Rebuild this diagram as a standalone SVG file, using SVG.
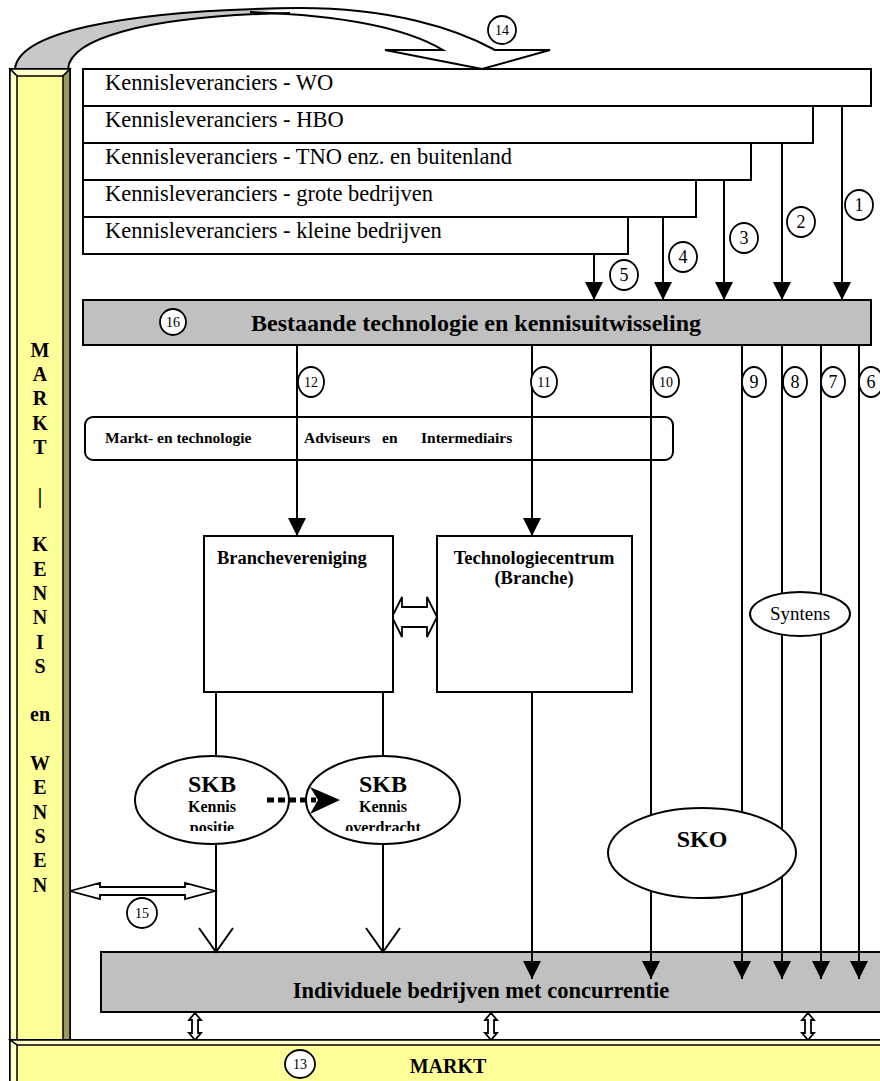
<svg xmlns="http://www.w3.org/2000/svg" width="880" height="1081" viewBox="0 0 880 1081">
<style>
.ln{stroke:#000;stroke-width:2;fill:none}
.box{fill:#fff;stroke:#000;stroke-width:2}
.gray{fill:#c0c0c0;stroke:#000;stroke-width:2}
.t{font-family:"Liberation Serif","Times New Roman",serif;fill:#000}
.b{font-weight:bold}
.num{font-family:"Liberation Serif","Times New Roman",serif;font-size:18px;text-anchor:middle}
.snum{font-family:"Liberation Serif","Times New Roman",serif;font-size:14px;text-anchor:middle}
.circ{fill:#fff;stroke:#000;stroke-width:1.8}
.hollow{fill:#fff;stroke:#000;stroke-width:1.8;stroke-linejoin:miter}
</style>
<defs>
<marker id="tri" markerUnits="userSpaceOnUse" markerWidth="18" markerHeight="18" refX="18" refY="9" orient="auto" viewBox="0 0 18 18">
<path d="M0,0 L18,9 L0,18 Z" fill="#000"/>
</marker>
<clipPath id="clipSkb"><rect x="100" y="740" width="400" height="91"/></clipPath>
</defs>

<!-- top curved arrow (14) -->
<g id="curved-arrow">
<path d="M15,69 C18,35 110,10 300,8 L300,13 C140,16 70,40 68,69 Z" fill="#c8c8c8"/>
<path d="M300,8 C390,8 455,28 495,50 L550,50 L482,69 L385,50 L443,50 C420,36 370,16 250,12 Z" fill="#fff"/>
<path class="ln" d="M15,69 C18,35 110,10 300,8 C390,8 455,28 495,50 L550,50 L482,69 L385,50 L443,50 C420,36 370,16 250,12"/>
<path class="ln" d="M68,69 C70,40 140,16 290,13"/>
</g>

<!-- supplier boxes -->
<g id="kl-wo"><rect class="box" x="83" y="69" width="788" height="37"/><text class="t" x="105" y="90" font-size="22.5">Kennisleveranciers - WO</text></g>
<g id="kl-hbo"><rect class="box" x="83" y="106" width="730" height="37"/><text class="t" x="105" y="127" font-size="22.5">Kennisleveranciers - HBO</text></g>
<g id="kl-tno"><rect class="box" x="83" y="143" width="668" height="37"/><text class="t" x="105" y="164" font-size="22.5">Kennisleveranciers - TNO enz. en buitenland</text></g>
<g id="kl-groot"><rect class="box" x="83" y="180" width="613" height="37"/><text class="t" x="105" y="201" font-size="22.5">Kennisleveranciers - grote bedrijven</text></g>
<g id="kl-klein"><rect class="box" x="83" y="217" width="545" height="37"/><text class="t" x="105" y="238" font-size="22.5">Kennisleveranciers - kleine bedrijven</text></g>

<!-- bar 16 -->
<g id="bestaande">
<rect class="gray" x="83" y="300" width="788" height="45"/>
<text class="t b" x="476" y="331" font-size="24" text-anchor="middle">Bestaande technologie en kennisuitwisseling</text>
<ellipse class="circ" cx="173" cy="322" rx="13" ry="13"/><text class="snum" x="173" y="327">16</text>
</g>

<!-- advisers box -->
<g id="adviseurs">
<rect class="box" x="85" y="417" width="588" height="43" rx="8"/>
<text class="t b" x="105" y="443" font-size="15.5">Markt- en technologie</text>
<text class="t b" x="304" y="443" font-size="15.5">Adviseurs</text>
<text class="t b" x="382" y="443" font-size="15.5">en</text>
<text class="t b" x="421" y="443" font-size="15.5">Intermediairs</text>
</g>

<!-- individual companies bar (drawn under the arrows) -->
<g id="individuele">
<rect class="gray" x="101" y="952" width="785" height="60"/>
<text class="t b" x="481" y="998" font-size="22.5" text-anchor="middle">Individuele bedrijven met concurrentie</text>
</g>

<!-- connectors -->
<g id="connectors">
<line class="ln" x1="842" y1="106" x2="842" y2="300" marker-end="url(#tri)"/>
<line class="ln" x1="782" y1="143" x2="782" y2="300" marker-end="url(#tri)"/>
<line class="ln" x1="724" y1="180" x2="724" y2="300" marker-end="url(#tri)"/>
<line class="ln" x1="663" y1="217" x2="663" y2="300" marker-end="url(#tri)"/>
<line class="ln" x1="594" y1="254" x2="594" y2="300" marker-end="url(#tri)"/>
<line class="ln" x1="297" y1="345" x2="297" y2="536" marker-end="url(#tri)"/>
<line class="ln" x1="532" y1="345" x2="532" y2="536" marker-end="url(#tri)"/>
<line class="ln" x1="532" y1="692" x2="532" y2="979" marker-end="url(#tri)"/>
<line class="ln" x1="651" y1="345" x2="651" y2="979" marker-end="url(#tri)"/>
<line class="ln" x1="742" y1="345" x2="742" y2="979" marker-end="url(#tri)"/>
<line class="ln" x1="782" y1="345" x2="782" y2="979" marker-end="url(#tri)"/>
<line class="ln" x1="821" y1="345" x2="821" y2="979" marker-end="url(#tri)"/>
<line class="ln" x1="859" y1="345" x2="859" y2="979" marker-end="url(#tri)"/>
<line class="ln" x1="216" y1="692" x2="216" y2="952"/>
<line class="ln" x1="383" y1="692" x2="383" y2="952"/>
<path class="ln" d="M199,928 L216,952 L233,928"/>
<path class="ln" d="M366,928 L383,952 L400,928"/>
<path class="hollow" d="M392,617 L402,597 L402,607 L427,607 L427,597 L437,617 L427,637 L427,627 L402,627 L402,637 Z"/>
<path class="hollow" d="M70,891 L100,883 L100,887 L185,887 L185,883 L215,891 L185,899 L185,895 L100,895 L100,899 Z"/>
<path class="hollow" d="M195,1013 L201,1020 L198,1020 L198,1033 L201,1033 L195,1040 L189,1033 L192,1033 L192,1020 L189,1020 Z"/>
<path class="hollow" d="M491,1013 L497,1020 L494,1020 L494,1033 L497,1033 L491,1040 L485,1033 L488,1033 L488,1020 L485,1020 Z"/>
<path class="hollow" d="M808,1013 L814,1020 L811,1020 L811,1033 L814,1033 L808,1040 L802,1033 L805,1033 L805,1020 L802,1020 Z"/>
</g>

<!-- number labels -->
<g id="labels">
<ellipse class="circ" cx="859" cy="205" rx="14" ry="15"/><text class="num" x="859" y="211">1</text>
<ellipse class="circ" cx="801" cy="222" rx="14" ry="15"/><text class="num" x="801" y="228">2</text>
<ellipse class="circ" cx="744" cy="238" rx="14" ry="15"/><text class="num" x="744" y="244">3</text>
<ellipse class="circ" cx="683" cy="257" rx="14" ry="15"/><text class="num" x="683" y="263">4</text>
<ellipse class="circ" cx="624" cy="275" rx="14" ry="15"/><text class="num" x="624" y="281">5</text>
<ellipse class="circ" cx="871" cy="382" rx="12" ry="15"/><text class="num" x="871" y="388">6</text>
<ellipse class="circ" cx="833" cy="382" rx="12" ry="15"/><text class="num" x="833" y="388">7</text>
<ellipse class="circ" cx="795" cy="382" rx="12" ry="15"/><text class="num" x="795" y="388">8</text>
<ellipse class="circ" cx="754" cy="382" rx="12" ry="15"/><text class="num" x="754" y="388">9</text>
<ellipse class="circ" cx="666" cy="382" rx="13" ry="15"/><text class="snum" x="666" y="387">10</text>
<ellipse class="circ" cx="544" cy="382" rx="13" ry="15"/><text class="snum" x="544" y="387">11</text>
<ellipse class="circ" cx="311" cy="382" rx="13" ry="15"/><text class="snum" x="311" y="387">12</text>
<ellipse class="circ" cx="502" cy="30" rx="14" ry="14"/><text class="snum" x="502" y="35">14</text>
<ellipse class="circ" cx="142" cy="913" rx="15" ry="15"/><text class="snum" x="142" y="918">15</text>
</g>

<!-- nodes -->
<g id="branchevereniging">
<rect class="box" x="204" y="536" width="189" height="156"/>
<text class="t b" x="217" y="564" font-size="18.5">Branchevereniging</text>
</g>
<g id="technologiecentrum">
<rect class="box" x="437" y="536" width="195" height="156"/>
<text class="t b" x="534" y="564" font-size="18.5" text-anchor="middle">Technologiecentrum</text>
<text class="t b" x="534" y="584" font-size="18.5" text-anchor="middle">(Branche)</text>
</g>
<g id="syntens">
<ellipse class="box" cx="800" cy="614" rx="50" ry="22"/>
<text class="t" x="800" y="620" font-size="19" text-anchor="middle">Syntens</text>
</g>
<g id="skb-positie">
<ellipse class="box" cx="212" cy="800" rx="77" ry="44"/>
<g clip-path="url(#clipSkb)">
<text class="t b" x="212" y="792" font-size="24" text-anchor="middle">SKB</text>
<text class="t b" x="212" y="812" font-size="16" text-anchor="middle">Kennis</text>
<text class="t b" x="212" y="833" font-size="16" text-anchor="middle">positie</text>
</g>
</g>
<g id="skb-overdracht">
<ellipse class="box" cx="383" cy="800" rx="77" ry="44"/>
<g clip-path="url(#clipSkb)">
<text class="t b" x="383" y="792" font-size="24" text-anchor="middle">SKB</text>
<text class="t b" x="383" y="812" font-size="16" text-anchor="middle">Kennis</text>
<text class="t b" x="383" y="833" font-size="16" text-anchor="middle">overdracht</text>
</g>
</g>
<g id="sko">
<ellipse class="box" cx="702" cy="853" rx="94" ry="45"/>
<text class="t b" x="702" y="847" font-size="24" text-anchor="middle">SKO</text>
</g>

<!-- dotted arrow between SKB ellipses -->
<g id="connector-dotted">
<line x1="267" y1="800" x2="316" y2="800" stroke="#000" stroke-width="5" stroke-dasharray="7 4"/>
<path d="M310,787 L340,800 L310,814 L318,800 Z" fill="#000"/>
</g>

<!-- left pillar -->
<g id="pillar">
<rect x="10" y="69" width="60" height="975" fill="#ffff99" stroke="#000" stroke-width="2"/>
<polygon points="10,69 70,69 63,76 17,76" fill="#ffffcc" stroke="#000" stroke-width="1.5"/>
<polygon points="10,69 17,76 17,1044 10,1044" fill="#ffffcc" stroke="#000" stroke-width="1.5"/>
<polygon points="70,69 63,76 63,1044 70,1044" fill="#999966" stroke="#000" stroke-width="1.5"/>
<g class="t b" font-size="20" text-anchor="middle">
<text x="40" y="357">M</text><text x="40" y="381">A</text><text x="40" y="405">R</text><text x="40" y="430">K</text><text x="40" y="454">T</text>
<text x="40" y="503">|</text>
<text x="40" y="551">K</text><text x="40" y="576">E</text><text x="40" y="600">N</text><text x="40" y="624">N</text><text x="40" y="649">I</text><text x="40" y="673">S</text>
<text x="40" y="721">en</text>
<text x="40" y="770">W</text><text x="40" y="794">E</text><text x="40" y="819">N</text><text x="40" y="843">S</text><text x="40" y="867">E</text><text x="40" y="892">N</text>
</g>
</g>

<!-- bottom market bar -->
<g id="markt">
<rect x="10" y="1040" width="875" height="45" fill="#ffff99" stroke="#000" stroke-width="2"/>
<polygon points="10,1040 885,1040 885,1045 17,1045" fill="#ffffcc" stroke="#000" stroke-width="1.5"/>
<polygon points="10,1040 17,1045 17,1085 10,1085" fill="#ffffcc" stroke="#000" stroke-width="1.5"/>
<text class="t b" x="448" y="1073" font-size="20" text-anchor="middle">MARKT</text>
<ellipse class="circ" cx="300" cy="1064" rx="15" ry="14"/><text class="snum" x="300" y="1069">13</text>
</g>
</svg>
